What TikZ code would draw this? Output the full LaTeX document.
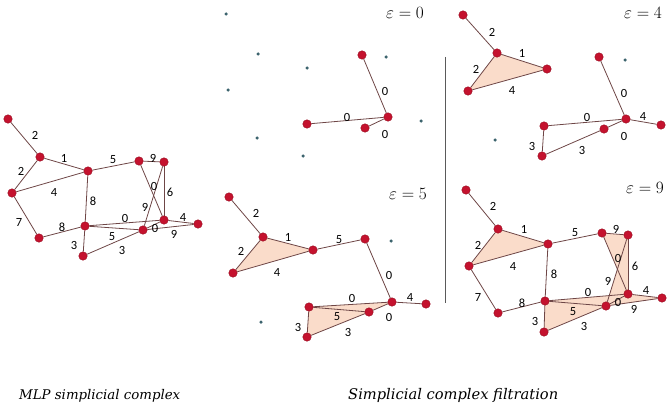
\documentclass[tikz,border=0pt]{standalone}
\usepackage{fontspec}
\setmainfont{Liberation Serif}
\newfontfamily\lblfont{Carlito}
\newfontfamily\capfont{DejaVu Serif}
\usetikzlibrary{backgrounds}
\definecolor{vtxred}{RGB}{196,18,46}
\definecolor{vtxedge}{RGB}{150,10,30}
\definecolor{edgecol}{RGB}{110,70,70}
\definecolor{gdotcol}{RGB}{60,100,110}
\definecolor{trifill}{RGB}{250,220,202}
\definecolor{sepcol}{RGB}{90,90,90}
\tikzset{
 vtx/.style={circle, fill=vtxred, draw=vtxedge, line width=0.4pt, inner sep=0pt, minimum size=8.5pt},
 gdot/.style={circle, fill=gdotcol, inner sep=0pt, minimum size=3.5pt},
 edg/.style={draw=edgecol, line width=0.8pt},
 wt/.style={font=\lblfont\fontsize{12.5}{12.5}\selectfont, inner sep=0pt, text=black},
 tri/.style={fill=trifill},
 eps/.style={font=\fontsize{16.5}{16.5}\selectfont, inner sep=0pt},
 captext/.style={inner sep=0pt, anchor=base west}
}
\begin{document}
\begin{tikzpicture}[x=1pt,y=-1pt]
\useasboundingbox (0,0) rectangle (671,404);
% ---------- left: MLP simplicial complex ----------
\node[vtx] (lA) at (8,119) {};
\node[vtx] (lB) at (40,157) {};
\node[vtx] (lC) at (88,171) {};
\node[vtx] (lD) at (12,193) {};
\node[vtx] (lE) at (39,238) {};
\node[vtx] (lF) at (85,226) {};
\node[vtx] (lG) at (83,256) {};
\node[vtx] (lH) at (139,161) {};
\node[vtx] (lI) at (164,162) {};
\node[vtx] (lJ) at (164,220) {};
\node[vtx] (lK) at (143,230) {};
\node[vtx] (lL) at (198,224) {};
\begin{scope}[on background layer]
\draw[edg] (lA)--(lB); \draw[edg] (lB)--(lC); \draw[edg] (lB)--(lD); \draw[edg] (lD)--(lC);
\draw[edg] (lD)--(lE); \draw[edg] (lE)--(lF); \draw[edg] (lC)--(lF); \draw[edg] (lC)--(lH);
\draw[edg] (lH)--(lI); \draw[edg] (lH)--(lJ); \draw[edg] (lI)--(lK); \draw[edg] (lI)--(lJ);
\draw[edg] (lF)--(lJ); \draw[edg] (lF)--(lK); \draw[edg] (lF)--(lG); \draw[edg] (lG)--(lK);
\draw[edg] (lJ)--(lL); \draw[edg] (lK)--(lL); \draw[edg] (lK)--(lJ);
\end{scope}
\node[wt] (lw1) at (35,135) {2};
\node[wt] (lw2) at (64,158) {1};
\node[wt] (lw3) at (21,171) {2};
\node[wt] (lw4) at (54,192) {4};
\node[wt] (lw5) at (113,160) {5};
\node[wt] (lw6) at (153,158) {9};
\node[wt] (lw7) at (154,186) {0};
\node[wt] (lw8) at (170,192) {6};
\node[wt] (lw9) at (93,201) {8};
\node[wt] (lw10) at (145,207) {9};
\node[wt] (lw11) at (19,222) {7};
\node[wt] (lw12) at (62,227) {8};
\node[wt] (lw13) at (125,218) {0};
\node[wt] (lw14) at (183,217) {4};
\node[wt] (lw15) at (155,228) {0};
\node[wt] (lw16) at (174,234) {9};
\node[wt] (lw17) at (112,237) {5};
\node[wt] (lw18) at (74,245) {3};
\node[wt] (lw19) at (122,250) {3};
% ---------- epsilon = 0 ----------
\node[gdot] (ag1) at (226,14) {};
\node[gdot] (ag2) at (258,54) {};
\node[gdot] (ag3) at (307,68) {};
\node[gdot] (ag4) at (228,90) {};
\node[gdot] (ag5) at (257,138) {};
\node[gdot] (ag6) at (303,156) {};
\node[gdot] (ag7) at (386,57) {};
\node[gdot] (ag8) at (421,121) {};
\node[vtx] (aH) at (362,55) {};
\node[vtx] (aJ) at (388,117) {};
\node[vtx] (aF) at (307,124) {};
\node[vtx] (aK) at (365,128) {};
\begin{scope}[on background layer]
\draw[edg] (aH)--(aJ); \draw[edg] (aF)--(aJ); \draw[edg] (aK)--(aJ);
\end{scope}
\node[wt] (aw1) at (385,91) {0};
\node[wt] (aw2) at (347,117) {0};
\node[wt] (aw3) at (385,134) {0};
\node[eps] (ae) at (405,13) {$\varepsilon = 0$};
% ---------- epsilon = 4 ----------
\node[gdot] (bg1) at (625,60) {};
\node[gdot] (bg2) at (495,140) {};
\node[vtx] (bA) at (463,15) {};
\node[vtx] (bB) at (497,53) {};
\node[vtx] (bC) at (547,69) {};
\node[vtx] (bD) at (468,91) {};
\node[vtx] (bH) at (599,57) {};
\node[vtx] (bJ) at (626,119) {};
\node[vtx] (bL) at (661,125) {};
\node[vtx] (bF) at (544,126) {};
\node[vtx] (bK) at (604,129) {};
\node[vtx] (bG) at (542,156) {};
\begin{scope}[on background layer]
\fill[tri] (bB.center)--(bC.center)--(bD.center)--cycle;
\draw[edg] (bA)--(bB); \draw[edg] (bB)--(bC); \draw[edg] (bB)--(bD); \draw[edg] (bD)--(bC);
\draw[edg] (bH)--(bJ); \draw[edg] (bF)--(bJ); \draw[edg] (bK)--(bJ); \draw[edg] (bJ)--(bL);
\draw[edg] (bF)--(bG); \draw[edg] (bG)--(bK);
\end{scope}
\node[wt] (bw1) at (492,32) {2};
\node[wt] (bw2) at (522,53) {1};
\node[wt] (bw3) at (476,69) {2};
\node[wt] (bw4) at (512,90) {4};
\node[wt] (bw5) at (624,93) {0};
\node[wt] (bw6) at (587,117) {0};
\node[wt] (bw7) at (643,116) {4};
\node[wt] (bw8) at (624,136) {0};
\node[wt] (bw9) at (532,146) {3};
\node[wt] (bw10) at (582,150) {3};
\node[eps] (be) at (643,13) {$\varepsilon = 4$};
% ---------- separator ----------
\coordinate (sepTop) at (445,57);
\coordinate (sepBot) at (445,303);
\draw[sepcol, line width=0.8pt] (sepTop)--(sepBot);
% ---------- epsilon = 5 ----------
\node[gdot] (cg1) at (391,241) {};
\node[gdot] (cg2) at (261,322) {};
\node[vtx] (cA) at (229,197) {};
\node[vtx] (cB) at (263,237) {};
\node[vtx] (cC) at (313,250) {};
\node[vtx] (cD) at (233,273) {};
\node[vtx] (cH) at (365,239) {};
\node[vtx] (cJ) at (392,302) {};
\node[vtx] (cL) at (426,304) {};
\node[vtx] (cF) at (309,307) {};
\node[vtx] (cK) at (369,312) {};
\node[vtx] (cG) at (307,337) {};
\begin{scope}[on background layer]
\fill[tri] (cB.center)--(cC.center)--(cD.center)--cycle;
\fill[tri] (cF.center)--(cJ.center)--(cK.center)--cycle;
\fill[tri] (cF.center)--(cK.center)--(cG.center)--cycle;
\draw[edg] (cA)--(cB); \draw[edg] (cB)--(cC); \draw[edg] (cB)--(cD); \draw[edg] (cD)--(cC);
\draw[edg] (cC)--(cH); \draw[edg] (cH)--(cJ); \draw[edg] (cF)--(cJ); \draw[edg] (cK)--(cJ);
\draw[edg] (cJ)--(cL); \draw[edg] (cF)--(cK); \draw[edg] (cF)--(cG); \draw[edg] (cG)--(cK);
\end{scope}
\node[wt] (cw1) at (256,213) {2};
\node[wt] (cw2) at (288,237) {1};
\node[wt] (cw3) at (241,251) {2};
\node[wt] (cw4) at (277,272) {4};
\node[wt] (cw5) at (339,240) {5};
\node[wt] (cw6) at (389,275) {0};
\node[wt] (cw7) at (352,298) {0};
\node[wt] (cw8) at (410,297) {4};
\node[wt] (cw9) at (337,317) {5};
\node[wt] (cw10) at (389,317) {0};
\node[wt] (cw11) at (298,327) {3};
\node[wt] (cw12) at (348,332) {3};
\node[eps] (ce) at (408,194) {$\varepsilon = 5$};
% ---------- epsilon = 9 ----------
\node[vtx] (dA) at (466,190) {};
\node[vtx] (dB) at (498,229) {};
\node[vtx] (dC) at (548,244) {};
\node[vtx] (dD) at (469,266) {};
\node[vtx] (dE) at (498,313) {};
\node[vtx] (dF) at (545,301) {};
\node[vtx] (dG) at (544,332) {};
\node[vtx] (dH) at (602,233) {};
\node[vtx] (dI) at (628,235) {};
\node[vtx] (dJ) at (628,294) {};
\node[vtx] (dK) at (606,306) {};
\node[vtx] (dL) at (662,298) {};
\begin{scope}[on background layer]
\fill[tri] (dB.center)--(dC.center)--(dD.center)--cycle;
\fill[tri] (dH.center)--(dI.center)--(dJ.center)--cycle;
\fill[tri] (dI.center)--(dJ.center)--(dK.center)--cycle;
\fill[tri] (dF.center)--(dJ.center)--(dK.center)--cycle;
\fill[tri] (dF.center)--(dK.center)--(dG.center)--cycle;
\fill[tri] (dJ.center)--(dK.center)--(dL.center)--cycle;
\draw[edg] (dA)--(dB); \draw[edg] (dB)--(dC); \draw[edg] (dB)--(dD); \draw[edg] (dD)--(dC);
\draw[edg] (dD)--(dE); \draw[edg] (dE)--(dF); \draw[edg] (dC)--(dF); \draw[edg] (dC)--(dH);
\draw[edg] (dH)--(dI); \draw[edg] (dH)--(dJ); \draw[edg] (dI)--(dK); \draw[edg] (dI)--(dJ);
\draw[edg] (dF)--(dJ); \draw[edg] (dF)--(dK); \draw[edg] (dF)--(dG); \draw[edg] (dG)--(dK);
\draw[edg] (dJ)--(dL); \draw[edg] (dK)--(dL); \draw[edg] (dK)--(dJ);
\end{scope}
\node[wt] (dw1) at (493,206) {2};
\node[wt] (dw2) at (524,229) {1};
\node[wt] (dw3) at (478,245) {2};
\node[wt] (dw4) at (513,266) {4};
\node[wt] (dw5) at (575,233) {5};
\node[wt] (dw6) at (616,229) {9};
\node[wt] (dw7) at (618,258) {0};
\node[wt] (dw8) at (635,266) {6};
\node[wt] (dw9) at (554,274) {8};
\node[wt] (dw10) at (608,281) {9};
\node[wt] (dw11) at (588,292) {0};
\node[wt] (dw12) at (478,297) {7};
\node[wt] (dw13) at (646,290) {4};
\node[wt] (dw14) at (522,303) {8};
\node[wt] (dw15) at (618,302) {0};
\node[wt] (dw16) at (634,309) {9};
\node[wt] (dw17) at (573,312) {5};
\node[wt] (dw18) at (535,321) {3};
\node[wt] (dw19) at (584,326) {3};
\node[eps] (de) at (645,188) {$\varepsilon = 9$};
% ---------- captions ----------
\node[captext] (cap1) at (19,399) {\resizebox{161pt}{!}{\capfont\itshape MLP simplicial complex}};
\node[captext] (cap2) at (348,399) {\resizebox{210pt}{!}{\capfont\itshape Simplicial complex filtration}};
\end{tikzpicture}
\end{document}
